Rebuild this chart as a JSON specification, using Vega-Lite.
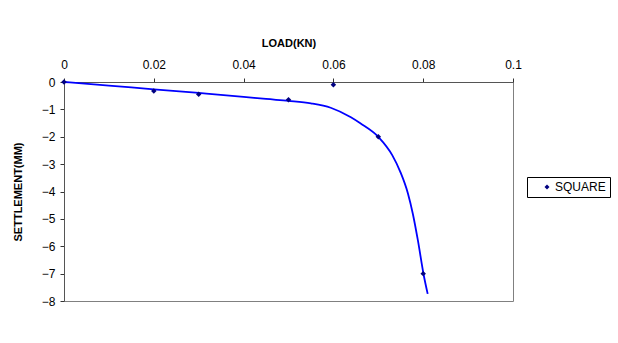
{
  "$schema": "https://vega.github.io/schema/vega-lite/v6.json",
  "width": 449,
  "height": 219,
  "autosize": {"type": "none"},
  "padding": {"left": 64, "top": 82, "right": 105, "bottom": 42},
  "background": "white",
  "config": {
    "font": "Liberation Sans",
    "view": {"stroke": "#808080", "strokeWidth": 1}
  },
  "datasets": {
    "trend": [
      {"i": 0, "load": 0, "settlement": 0},
      {"i": 1, "load": 0.01, "settlement": -0.13},
      {"i": 2, "load": 0.02, "settlement": -0.27},
      {"i": 3, "load": 0.03, "settlement": -0.4},
      {"i": 4, "load": 0.04, "settlement": -0.54},
      {"i": 5, "load": 0.045, "settlement": -0.62},
      {"i": 6, "load": 0.05, "settlement": -0.69},
      {"i": 7, "load": 0.055, "settlement": -0.78},
      {"i": 8, "load": 0.0594, "settlement": -0.94},
      {"i": 9, "load": 0.0639, "settlement": -1.29},
      {"i": 10, "load": 0.066, "settlement": -1.51},
      {"i": 11, "load": 0.0701, "settlement": -2.02},
      {"i": 12, "load": 0.0731, "settlement": -2.67},
      {"i": 13, "load": 0.0749, "settlement": -3.28},
      {"i": 14, "load": 0.0766, "settlement": -4.07},
      {"i": 15, "load": 0.0777, "settlement": -4.82},
      {"i": 16, "load": 0.0788, "settlement": -5.77},
      {"i": 17, "load": 0.0801, "settlement": -7.04},
      {"i": 18, "load": 0.081, "settlement": -7.74}
    ],
    "obs": [
      {"series": "SQUARE", "load": 0, "settlement": 0},
      {"series": "SQUARE", "load": 0.02, "settlement": -0.33},
      {"series": "SQUARE", "load": 0.03, "settlement": -0.45},
      {"series": "SQUARE", "load": 0.05, "settlement": -0.65},
      {"series": "SQUARE", "load": 0.06, "settlement": -0.1},
      {"series": "SQUARE", "load": 0.07, "settlement": -2.0},
      {"series": "SQUARE", "load": 0.08, "settlement": -7.0}
    ]
  },
  "encoding": {
    "x": {
      "field": "load",
      "type": "quantitative",
      "scale": {"domain": [0, 0.1], "nice": false},
      "axis": {
        "orient": "top",
        "title": "LOAD(KN)",
        "titleFontWeight": "bold",
        "titleFontSize": 11,
        "titleColor": "#000",
        "titlePadding": 10,
        "labelFontSize": 12,
        "labelColor": "#000",
        "labelPadding": 7,
        "values": [0, 0.02, 0.04, 0.06, 0.08, 0.1],
        "format": ".2~f",
        "grid": false,
        "domainColor": "#555",
        "tickColor": "#333",
        "tickSize": 4,
        "labelFlush": false
      }
    },
    "y": {
      "field": "settlement",
      "type": "quantitative",
      "scale": {"domain": [-8, 0], "nice": false},
      "axis": {
        "title": "SETTLEMENT(MM)",
        "titleFontWeight": "bold",
        "titleFontSize": 11,
        "titleColor": "#000",
        "titlePadding": 18,
        "labelFontSize": 12,
        "labelColor": "#000",
        "labelPadding": 5,
        "values": [-8, -7, -6, -5, -4, -3, -2, -1, 0],
        "grid": false,
        "domainColor": "#555",
        "tickColor": "#333",
        "tickSize": 4
      }
    }
  },
  "layer": [
    {
      "data": {"name": "trend"},
      "mark": {"type": "line", "color": "#0000FF", "strokeWidth": 1.8, "interpolate": "monotone"},
      "encoding": {"order": {"field": "i", "type": "quantitative"}}
    },
    {
      "data": {"name": "obs"},
      "mark": {"type": "point", "filled": true, "shape": "diamond", "size": 30, "opacity": 1},
      "encoding": {
        "color": {
          "field": "series",
          "type": "nominal",
          "scale": {"range": ["#000080"]},
          "legend": {
            "title": null,
            "orient": "none",
            "legendX": 463,
            "legendY": 95,
            "strokeColor": "#000",
            "fillColor": "#fff",
            "padding": 4,
            "symbolOffset": 10,
            "symbolSize": 25,
            "symbolType": "diamond",
            "labelFontSize": 12,
            "labelColor": "#000",
            "labelOffset": 2
          }
        }
      }
    }
  ]
}
